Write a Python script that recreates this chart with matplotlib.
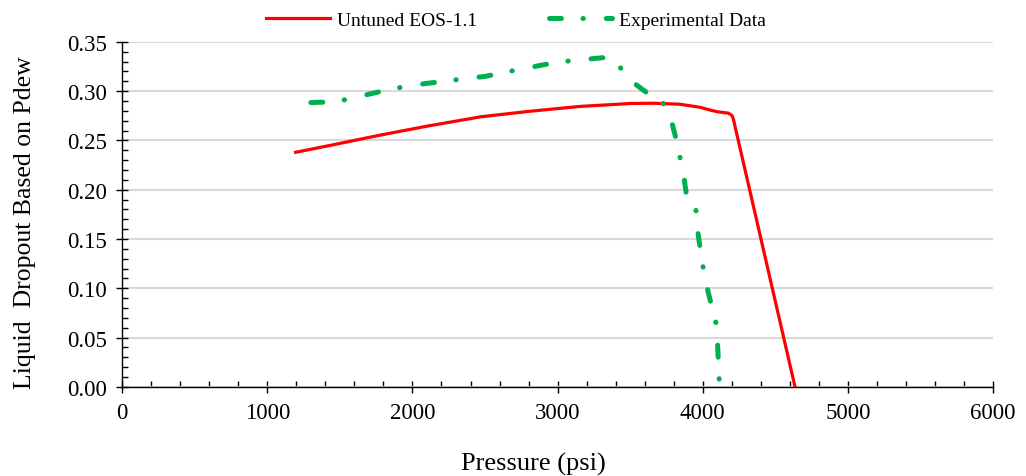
import matplotlib
matplotlib.use('Agg')
import matplotlib.pyplot as plt
from matplotlib.ticker import MultipleLocator

plt.rcParams['font.family'] = ['Liberation Serif', 'DejaVu Serif']
plt.rcParams['lines.scale_dashes'] = False

# Untuned EOS-1.1 (psi, liquid dropout)
eos_p = [1195, 1450, 1780, 2100, 2470, 2800, 3150, 3500, 3650, 3840, 3980, 4060, 4105, 4175, 4200, 4210, 4635]
eos_y = [0.238, 0.2455, 0.2555, 0.2645, 0.274, 0.2795, 0.2845, 0.2875, 0.2878, 0.2868, 0.2837, 0.2805,
         0.279, 0.2778, 0.2755, 0.272, 0.0]

# Experimental data
exp_p = [1300, 1420, 1570, 1700, 1820, 1960, 2100, 2220, 2370, 2500, 2630, 2770, 2910, 3030,
         3170, 3310, 3370, 3410, 3500, 3610, 3690, 3720, 3780, 3815, 3840, 3870, 3890, 3940, 3955,
         3966, 3986, 4007, 4034, 4069, 4097, 4103, 4110, 4115]
exp_y = [0.2885, 0.289, 0.292, 0.297, 0.301, 0.305, 0.308, 0.310, 0.313, 0.315, 0.319, 0.323,
         0.327, 0.330, 0.332, 0.334, 0.333, 0.328, 0.311, 0.299, 0.294, 0.290, 0.272, 0.252, 0.235,
         0.213, 0.192, 0.184, 0.178, 0.157, 0.136, 0.117, 0.098, 0.077, 0.061, 0.039, 0.016, 0.0]

fig = plt.figure(figsize=(10.26, 4.77), dpi=100)
ax = fig.add_axes([0.119, 0.187, 0.849, 0.723])

ax.plot(eos_p, eos_y, color='#FF0000', lw=2.3, label='Untuned EOS-1.1', zorder=3,
        solid_joinstyle='round')
ax.plot(exp_p, exp_y, color='#00B050', lw=3.6, dash_capstyle='round',
        linestyle=(0, (8.6, 15.5, 0.3, 16.5)), label='Experimental Data', zorder=3)

ax.set_xlim(0, 6000)
ax.set_ylim(0, 0.35)
ax.xaxis.set_major_locator(MultipleLocator(1000))
ax.xaxis.set_minor_locator(MultipleLocator(200))
ax.yaxis.set_major_locator(MultipleLocator(0.05))
ax.yaxis.set_minor_locator(MultipleLocator(0.01))
ax.yaxis.set_major_formatter(plt.FuncFormatter(lambda v, p: f'{v:.2f}'))
ax.tick_params(which='major', direction='inout', length=8, width=1, labelsize=16.5, pad=7)
ax.tick_params(which='minor', direction='in', length=4, width=1)
ax.grid(axis='y', which='major', color='#D9D9D9', lw=1.5, zorder=0)
for s in ['top', 'right']:
    ax.spines[s].set_visible(False)
for s in ['left', 'bottom']:
    ax.spines[s].set_linewidth(1)

ax.set_xlabel('Pressure (psi)', fontsize=19)
ax.set_ylabel('Liquid  Dropout Based on Pdew', fontsize=18.5)
ax.xaxis.set_label_coords(0.472, -0.188)
ax.yaxis.set_label_coords(-0.099, 0.48)

fig.legend(handles=ax.get_lines(), loc='center', bbox_to_anchor=(0.503, 0.955), ncol=2,
           frameon=False, fontsize=14, handlelength=3.25, handletextpad=0.36,
           columnspacing=3.7, borderaxespad=0)

fig.savefig('out.png', dpi=100)
